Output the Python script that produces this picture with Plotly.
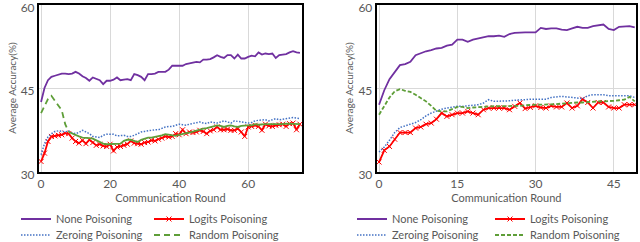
import plotly.graph_objects as go

# ---------------- data ----------------
rounds_left = list(range(76))
none_left = [42.5, 45.0, 46.4, 47.0, 47.2, 47.4, 47.6, 47.6, 47.5, 47.6, 47.9, 47.6, 47.1, 46.8, 46.3, 46.9,
             46.6, 46.4, 45.7, 46.3, 46.3, 46.5, 46.9, 46.4, 46.5, 46.6, 46.4, 47.5, 47.3, 47.0, 46.4, 47.5,
             47.5, 47.6, 47.9, 47.9, 47.9, 48.3, 49.0, 49.0, 49.0, 49.0, 49.3, 49.4, 49.5, 49.7, 49.6, 50.1,
             50.1, 50.2, 50.5, 50.9, 50.6, 50.4, 50.9, 50.9, 50.3, 51.0, 50.3, 50.3, 50.6, 50.8, 50.7, 51.4,
             51.0, 51.2, 51.1, 51.2, 50.4, 50.9, 51.0, 51.1, 51.4, 51.6, 51.4, 51.3]
logits_left = [31.8, 33.3, 35.4, 36.3, 36.4, 36.5, 36.6, 36.9, 36.8, 36.0, 35.4, 35.1, 35.6, 35.0, 35.7, 35.2,
               34.7, 34.9, 34.6, 34.5, 34.9, 33.7, 34.4, 34.5, 34.7, 34.9, 35.5, 35.1, 35.0, 34.9, 35.2, 35.3,
               35.6, 35.5, 35.8, 36.0, 36.3, 36.2, 36.3, 36.8, 36.6, 37.5, 36.8, 37.1, 37.0, 37.1, 37.4, 37.2,
               36.8, 37.3, 37.5, 38.0, 37.5, 37.5, 37.6, 37.4, 37.4, 37.7, 37.1, 36.3, 38.0, 38.1, 38.3, 38.1,
               37.4, 38.5, 38.2, 38.1, 38.3, 38.4, 38.5, 38.1, 38.6, 38.7, 37.5, 38.5]
zeroing_left = [33.0, 35.0, 36.2, 36.8, 37.2, 37.3, 37.2, 37.1, 37.3, 36.9, 36.8, 37.0, 37.4, 37.1, 36.8, 36.3,
                36.2, 36.1, 36.5, 36.7, 36.7, 36.7, 36.4, 36.4, 36.5, 36.3, 36.3, 36.5, 36.8, 37.1, 37.2, 37.3,
                37.5, 37.5, 37.5, 37.8, 38.0, 38.1, 38.1, 38.3, 38.5, 38.4, 38.3, 38.5, 38.6, 38.7, 38.9, 38.7,
                38.6, 38.9, 38.8, 38.7, 38.9, 39.1, 38.9, 38.7, 39.1, 39.0, 38.9, 38.7, 38.7, 38.8, 39.1, 39.2,
                39.2, 39.3, 39.1, 39.3, 39.5, 39.3, 39.4, 39.5, 39.7, 39.7, 39.6, 39.5]
random_left = [40.5, 41.8, 43.0, 43.6, 42.8, 42.0, 41.0, 38.5, 37.1, 36.8, 36.5, 36.3, 36.1, 36.1, 36.0, 35.9,
               35.6, 35.2, 35.0, 34.9, 34.9, 35.0, 35.0, 35.0, 35.5, 35.7, 35.7, 35.5, 35.3, 35.7, 35.9, 36.1,
               36.1, 36.2, 36.3, 36.5, 36.7, 36.6, 36.5, 36.4, 36.6, 36.8, 36.9, 37.0, 37.2, 37.4, 37.5, 37.7,
               37.8, 38.0, 38.1, 38.3, 38.2, 38.0, 38.2, 38.3, 38.1, 38.0, 38.2, 38.3, 38.3, 38.3, 38.5, 38.4,
               38.5, 38.5, 38.5, 38.5, 38.5, 38.4, 38.5, 38.6, 38.6, 38.6, 38.5, 38.5]

rounds_right = list(range(50))
none_right = [42.0, 44.6, 46.6, 47.9, 49.1, 49.3, 49.7, 50.9, 51.3, 51.6, 51.8, 52.1, 52.2, 52.6, 52.8, 53.7,
              53.7, 53.3, 53.7, 53.9, 54.1, 54.3, 54.3, 54.4, 54.2, 54.7, 54.9, 55.0, 55.0, 55.0, 55.0, 55.8,
              55.6, 55.7, 55.7, 55.5, 55.4, 55.7, 56.0, 55.8, 55.8, 56.1, 56.3, 56.4, 55.6, 55.4, 56.0, 56.0,
              56.1, 55.9]
logits_right = [31.7, 33.8, 34.5, 35.8, 37.0, 37.0, 37.0, 37.8, 38.0, 38.5, 38.7, 39.4, 40.5, 39.9, 40.2, 40.5,
                40.5, 40.8, 40.5, 40.2, 41.1, 41.4, 41.4, 41.4, 41.4, 41.1, 41.7, 42.3, 41.3, 41.5, 41.8, 41.5,
                41.4, 41.8, 41.6, 41.6, 42.3, 41.4, 41.8, 43.0, 42.4, 41.4, 42.4, 42.4, 41.6, 41.4, 41.4, 42.0,
                42.0, 42.0]
zeroing_right = [33.5, 34.4, 35.6, 37.0, 37.9, 38.2, 38.5, 38.8, 39.3, 40.0, 40.5, 40.9, 41.2, 41.4, 41.6, 41.7,
                 41.7, 41.8, 41.8, 42.0, 42.3, 42.9, 42.6, 42.6, 42.6, 42.7, 42.8, 42.8, 42.9, 43.0, 43.0, 43.0,
                 43.0, 43.3, 43.4, 43.5, 43.4, 43.3, 43.2, 43.1, 43.6, 43.8, 43.8, 43.8, 43.6, 43.6, 43.5, 43.5,
                 43.6, 43.3]
random_right = [40.2, 41.8, 43.3, 44.4, 44.8, 44.5, 44.3, 43.8, 43.2, 42.6, 41.8, 40.9, 40.8, 40.8, 41.2, 41.6,
                41.6, 41.4, 41.5, 41.5, 41.6, 41.7, 41.7, 41.7, 41.7, 41.7, 41.8, 41.8, 41.9, 42.0, 42.0, 42.0,
                42.0, 42.1, 42.1, 42.2, 42.3, 42.3, 42.4, 42.4, 42.5, 42.6, 42.6, 42.6, 42.6, 42.7, 42.8, 42.9,
                43.4, 42.6]

series_names = ["None Poisoning", "Logits Poisoning", "Zeroing Poisoning", "Random Poisoning"]
y_ticks = [30, 45, 60]
x_ticks_left = [0, 20, 40, 60]
x_ticks_right = [0, 15, 30, 45]
x_title = "Communication Round"
y_title = "Average Accuracy(%)"

# ---------------- style ----------------
PURPLE = "#7030A0"
RED = "#FF0000"
BLUE = "#4472C4"
GREEN = "#5E9E38"
FONT = "Lato, 'Open Sans', sans-serif"
TXT = "#595959"

fig = go.Figure()


def add_panel(xs, none, logits, zeroing, rnd, xa, ya, legs, green_split):
    fig.add_trace(go.Scatter(x=xs, y=none, mode="lines", name=series_names[0],
                             line=dict(color=PURPLE, width=1.8), xaxis=xa, yaxis=ya, legend=legs[0]))
    fig.add_trace(go.Scatter(x=xs, y=logits, mode="lines+markers", name=series_names[1],
                             line=dict(color=RED, width=1.8),
                             marker=dict(symbol="x-thin", size=5, color=RED,
                                         line=dict(color=RED, width=1)),
                             xaxis=xa, yaxis=ya, legend=legs[1]))
    fig.add_trace(go.Scatter(x=xs, y=zeroing, mode="lines", name=series_names[2],
                             line=dict(color=BLUE, width=1.5, dash="1.5px,1.5px"), xaxis=xa, yaxis=ya,
                             legend=legs[2]))
    if green_split is None:
        fig.add_trace(go.Scatter(x=xs, y=rnd, mode="lines", name=series_names[3],
                                 line=dict(color=GREEN, width=1.8, dash="4px,2px"),
                                 xaxis=xa, yaxis=ya, legend=legs[3]))
    else:
        k = green_split
        fig.add_trace(go.Scatter(x=xs[:k + 1], y=rnd[:k + 1], mode="lines", name=series_names[3],
                                 line=dict(color=GREEN, width=1.8, dash="6px,4px"),
                                 xaxis=xa, yaxis=ya, legend=legs[3]))
        fig.add_trace(go.Scatter(x=xs[k:], y=rnd[k:], mode="lines", name=series_names[3],
                                 line=dict(color=GREEN, width=1.8), showlegend=False,
                                 xaxis=xa, yaxis=ya, legend=legs[3]))


add_panel(rounds_left, none_left, logits_left, zeroing_left, random_left, "x", "y",
          ["legend", "legend2", "legend3", "legend4"], 8)
add_panel(rounds_right, none_right, logits_right, zeroing_right, random_right, "x2", "y2",
          ["legend5", "legend6", "legend7", "legend8"], None)

ydom = [0.2913, 0.9814]
axis_common = dict(showline=True, mirror=True, linecolor="black", linewidth=2,
                   showgrid=True, gridcolor="#D9D9D9", gridwidth=1, zeroline=False,
                   ticks="", tickfont=dict(family=FONT, size=12, color=TXT), automargin=False,
                   ticklabeloverflow="allow")

W, H = 640, 242


def leg(px_x, px_y):
    return dict(orientation="v", x=px_x / W, y=1 - px_y / H, xanchor="left", yanchor="middle",
                font=dict(size=11, color=TXT, family=FONT), bgcolor="rgba(0,0,0,0)",
                borderwidth=0, itemclick=False, itemdoubleclick=False)


ROW1, ROW2 = 219, 235
layout_legends = {
    "legend": leg(16, ROW1), "legend2": leg(149, ROW1),
    "legend3": leg(16, ROW2), "legend4": leg(149, ROW2),
    "legend5": leg(352, ROW1), "legend6": leg(490, ROW1),
    "legend7": leg(352, ROW2), "legend8": leg(490, ROW2),
}

fig.update_layout(
    width=W, height=H,
    margin=dict(l=0, r=0, t=0, b=0, autoexpand=False),
    paper_bgcolor="white", plot_bgcolor="white",
    font=dict(family=FONT, color=TXT),
    xaxis=dict(domain=[0.0609, 0.4719], range=[-0.6, 75.6], tickvals=x_ticks_left, anchor="y",
               title=dict(text=x_title, font=dict(size=11, color=TXT, family=FONT), standoff=2),
               **axis_common),
    yaxis=dict(domain=ydom, range=[30, 60], tickvals=y_ticks, anchor="x", ticklabelshift=3,
               title=dict(text=y_title, font=dict(size=10, color=TXT, family=FONT), standoff=2),
               **axis_common),
    xaxis2=dict(domain=[0.5886, 0.9938], range=[-0.45, 49.25], tickvals=x_ticks_right, anchor="y2",
                title=dict(text=x_title, font=dict(size=11, color=TXT, family=FONT), standoff=2),
                **axis_common),
    yaxis2=dict(domain=ydom, range=[30, 60], tickvals=y_ticks, anchor="x2", ticklabelshift=3,
                title=dict(text=y_title, font=dict(size=10, color=TXT, family=FONT), standoff=3),
                **axis_common),
    showlegend=True,
    **layout_legends,
)

fig.write_html("out.html", config={"displayModeBar": False},
               post_script="document.body.style.margin='0px';document.body.style.overflow='hidden';")
